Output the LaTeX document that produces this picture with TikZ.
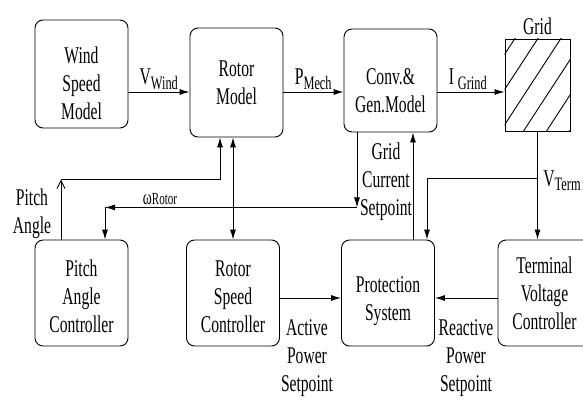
\documentclass[tikz,border=0pt]{standalone}
\usepackage{fontspec}
\setmainfont{Liberation Serif}[FakeStretch=0.65]
\usetikzlibrary{arrows.meta}
\newcommand{\low}[1]{\textsubscript{\fontsize{19}{19}\selectfont #1}}
\newcommand{\dn}[1]{\rule{0pt}{\dimexpr 16.4pt+#1+#1\relax}}

\begin{document}
\begin{tikzpicture}[x=1pt, y=-1pt, line width=0.9pt,
  font=\fontsize{24}{28}\selectfont,
  block/.style={draw, rounded corners=8pt, minimum width=93pt, minimum height=106pt, align=center, inner sep=0pt},
  arr/.style={-{Latex[length=10pt,width=6pt]}},
  lbl/.style={align=center, inner sep=1pt}]
  \useasboundingbox (0,0) rectangle (583,399);

  % Hàng trên
  \node[block, minimum height=108pt] (wind) at (81.5,74) {\dn{9pt}Wind\\Speed\\Model};
  \node[block, minimum height=109pt] (rotor) at (236.5,82.5) {Rotor\\Model};
  \node[block, minimum height=103pt] (conv) at (390.5,80.5) {\dn{10pt}Conv.\&\\Gen.Model};
  \node[draw, minimum width=65pt, minimum height=92pt, inner sep=0pt] (grid) at (537.5,85) {};
  \node[above, inner sep=3pt] (gridlbl) at (grid.north) {Grid};

  % Gạch chéo lưới
  \begin{scope}
    \clip (grid.south west) rectangle (grid.north east);
    \foreach \s in {0,...,5} \draw (525+23*\s, 23) -- ++(-90,138);
  \end{scope}

  % Hàng dưới
  \node[block] (pitch) at (81.5,293) {\dn{3pt}Pitch\\Angle\\Controller};
  \node[block] (rsc) at (233,293) {\dn{3pt}Rotor\\Speed\\Controller};
  \node[block] (prot) at (388,293) {\dn{8pt}Protection\\System};
  \node[block] (tvc) at (544.5,293) {Terminal\\Voltage\\Controller};

  % Đường chính
  \coordinate (mainline) at (0,92);
  \draw[arr] (wind.east |- mainline) -- node[above, inner sep=2pt] {V\low{Wind}} (rotor.west |- mainline);
  \draw[arr] (rotor.east |- mainline) -- node[above, inner sep=2pt] {P\low{Mech}} (conv.west |- mainline);
  \draw[arr] (conv.east |- mainline) -- node[above, inner sep=2pt, xshift=-3pt] {I\,\low{Grind}} (grid.west |- mainline);

  % Góc pitch
  \draw[-{Straight Barb[length=8pt,width=8pt]}] ([xshift=-20.5pt]pitch.north) -- ++(0,-60) coordinate (pacorner);
  \draw[arr] (pacorner) -| ([xshift=-16.5pt]rotor.south);
  \node[lbl] (palbl) at (32,214) {Pitch\\Angle};

  % Tốc độ rotor
  \draw[{Latex[length=10pt,width=6pt]}-{Latex[length=10pt,width=6pt]}] (rsc.north) -- (rsc.north |- rotor.south);
  \draw[arr] ([xshift=-33.5pt]conv.south) -- ++(0,75) coordinate (wr);
  \draw[arr] (wr) -- ([xshift=23.5pt]pitch.north |- wr) coordinate (wcorner);
  \draw[arr] (wcorner) -- ([xshift=23.5pt]pitch.north);
  \node[inner sep=0pt] (wlbl) at (160,199) {{\fontsize{21}{21}\selectfont ω}{\fontsize{17}{17}\selectfont Rotor}};

  % Dòng lưới đặt
  \draw[arr] ([xshift=25pt]prot.north) -- ([xshift=25pt]prot.north |- conv.south);
  \node[lbl] (gclbl) at (386,182) {Grid\\Current\\Setpoint};

  % Điện áp đầu cực
  \draw[arr] (grid.south) -- (grid.south |- tvc.north);
  \draw[arr] (grid.south |- 0,178) -| ([xshift=39pt]prot.north);
  \node[right, inner sep=3pt] (vtlbl) at (540,181) {V\low{Term}};

  % Công suất đặt
  \draw[arr] ([yshift=-5pt]rsc.east) -- ([yshift=-5pt]prot.west);
  \draw[arr] ([yshift=-5pt]tvc.west) -- ([yshift=-5pt]prot.east);
  \node[lbl] (aplbl) at (307,358) {Active\\Power\\Setpoint};
  \node[lbl] (rplbl) at (466,358) {Reactive\\Power\\Setpoint};
\end{tikzpicture}
\end{document}
